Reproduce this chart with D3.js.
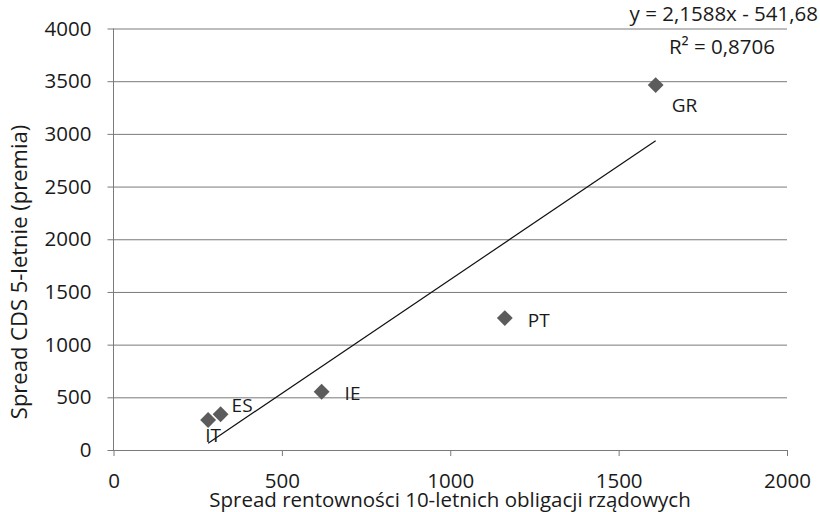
<!DOCTYPE html>
<html>
<head>
<meta charset="utf-8">
<script src="https://cdn.jsdelivr.net/npm/d3@7"></script>
<style>
  body { margin: 0; background: #fff; }
  text { font-family: "Open Sans", "DejaVu Sans", sans-serif; fill: #1a1a1a; }
</style>
</head>
<body>
<svg id="chart" width="820" height="512"></svg>
<script>
const countries = ["GR", "PT", "IE", "ES", "IT"];
const bondSpread = [1610, 1162, 618, 318, 281];
const cdsSpread = [3463, 1252, 553, 339, 285];
const xTicks = [0, 500, 1000, 1500, 2000];
const yTicks = [0, 500, 1000, 1500, 2000, 2500, 3000, 3500, 4000];
const slope = 2.1588;
const intercept = -541.68;

const svg = d3.select("#chart");
const margin = { top: 28.5, right: 33, bottom: 62, left: 113.5 };
const innerWidth = 820 - margin.left - margin.right;
const innerHeight = 512 - margin.top - margin.bottom;

const data = countries.map((c, i) => ({ name: c, x: bondSpread[i], y: cdsSpread[i] }));

const xScale = d3.scaleLinear().domain([0, 2000]).range([0, innerWidth]);
const yScale = d3.scaleLinear().domain([0, 4000]).range([innerHeight, 0]);

const g = svg.append("g").attr("transform", `translate(${margin.left},${margin.top})`);

// gridlines + y axis
const yAxis = g.append("g")
    .call(d3.axisLeft(yScale).tickValues(yTicks).tickFormat(d3.format("d"))
        .tickSize(-innerWidth).tickSizeOuter(0).tickPadding(22));
yAxis.select(".domain").remove();
yAxis.selectAll(".tick line").attr("stroke", "#7a7a7a").attr("x1", -6);
yAxis.selectAll(".tick text").attr("font-size", 20.5).attr("fill", "#1a1a1a");

// x axis
const xAxis = g.append("g")
    .attr("transform", `translate(0,${innerHeight})`)
    .call(d3.axisBottom(xScale).tickValues(xTicks).tickFormat(d3.format("d"))
        .tickSize(6).tickSizeOuter(0).tickPadding(17));
xAxis.select(".domain").attr("stroke", "#7a7a7a");
xAxis.selectAll(".tick line").attr("stroke", "#7a7a7a");
xAxis.selectAll(".tick text").attr("font-size", 20.5).attr("fill", "#1a1a1a");

// vertical axis line
g.append("line")
    .attr("x1", 0).attr("x2", 0)
    .attr("y1", 0).attr("y2", innerHeight)
    .attr("stroke", "#7a7a7a");

// trendline
const xMin = d3.min(bondSpread), xMax = d3.max(bondSpread);
g.append("line")
    .attr("x1", xScale(xMin)).attr("y1", yScale(slope * xMin + intercept))
    .attr("x2", xScale(xMax)).attr("y2", yScale(slope * xMax + intercept))
    .attr("stroke", "#111")
    .attr("stroke-width", 1.2);

// points
g.selectAll("path.pt")
    .data(data)
    .enter()
    .append("path")
    .attr("class", "pt")
    .attr("d", d3.symbol().type(d3.symbolDiamond2).size(160))
    .attr("transform", d => `translate(${xScale(d.x)},${yScale(d.y)})`)
    .attr("fill", "#5c5c5c");

// labels
const labelOffset = { GR: [16, 27], PT: [23, 9], IE: [23, 8], ES: [11, -2], IT: [-3, 22] };
g.selectAll("text.lbl")
    .data(data)
    .enter()
    .append("text")
    .attr("class", "lbl")
    .attr("x", d => xScale(d.x) + labelOffset[d.name][0])
    .attr("y", d => yScale(d.y) + labelOffset[d.name][1])
    .attr("font-size", 19)
    .text(d => d.name);

// equation
svg.append("text")
    .attr("x", 818).attr("y", 21)
    .attr("text-anchor", "end")
    .attr("font-size", 20.5)
    .text("y = 2,1588x - 541,68");
svg.append("text")
    .attr("x", 775).attr("y", 54)
    .attr("text-anchor", "end")
    .attr("font-size", 20.5)
    .text("R² = 0,8706");

// axis titles
svg.append("text")
    .attr("x", 450)
    .attr("y", 507)
    .attr("text-anchor", "middle")
    .attr("font-size", 20.5)
    .text("Spread rentowności 10-letnich obligacji rządowych");

svg.append("text")
    .attr("transform", `translate(27,272) rotate(-90)`)
    .attr("text-anchor", "middle")
    .attr("font-size", 22)
    .text("Spread CDS 5-letnie (premia)");
</script>
</body>
</html>
